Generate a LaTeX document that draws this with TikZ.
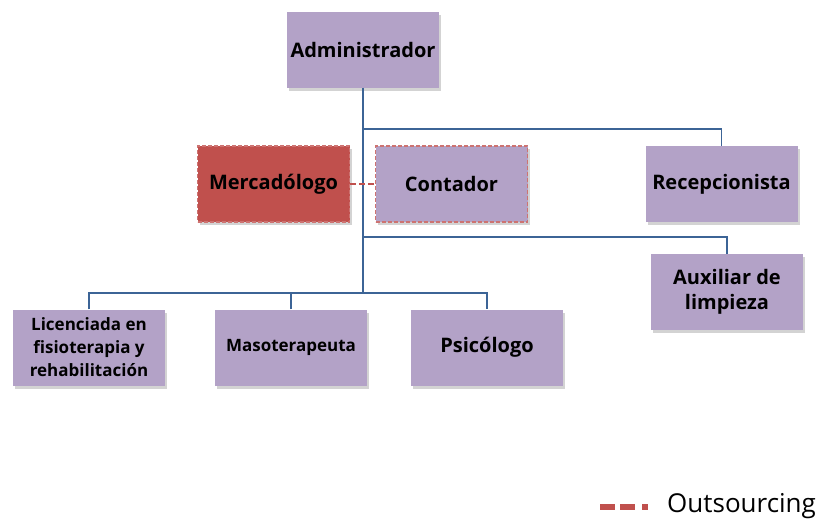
\documentclass[tikz,border=0pt]{standalone}
\usepackage{fontspec}
\setmainfont{Open Sans}
\usetikzlibrary{shadows}
\definecolor{boxpurple}{HTML}{B3A2C7}
\definecolor{boxred}{HTML}{C0504D}
\definecolor{linkblue}{HTML}{3C6496}
\definecolor{dashred}{HTML}{C0504D}
\tikzset{
  orgbox/.style={draw=none, fill=boxpurple, minimum width=152pt, minimum height=76pt, align=center, font=\bfseries\fontsize{20}{25}\selectfont, inner sep=2pt, drop shadow={shadow xshift=2pt, shadow yshift=-3pt, opacity=0.35}},
  smallbox/.style={orgbox, font=\bfseries\fontsize{17}{23}\selectfont},
  outbox/.style={draw=dashred!80!white, dash pattern=on 4pt off 2pt, line width=1.2pt},
  link/.style={draw=linkblue, line width=1.8pt},
  outlink/.style={draw=dashred, dash pattern=on 6pt off 3pt, line width=1.5pt}
}
\begin{document}
\begin{tikzpicture}[x=1pt,y=-1pt]
\useasboundingbox (0,0) rectangle (817,520);
\node[orgbox] (adm) at (363,49.5) {Administrador};
\node[orgbox, outbox, fill=boxred] (mer) at (273.5,184) {Mercadólogo};
\node[orgbox, outbox] (con) at (451.5,184) {Contador};
\node[orgbox] (rec) at (721.5,184) {Recepcionista};
\node[orgbox] (aux) at (727,292) {Auxiliar de\\limpieza};
\node[smallbox] (lic) at (89,347.5) {Licenciada en\\fisioterapia y\\rehabilitación};
\node[smallbox] (mas) at (291,347.5) {Masoterapeuta};
\node[orgbox] (psi) at (487,347.5) {Psicólogo};
\coordinate (j1) at (363,129);
\coordinate (j2) at (363,237);
\coordinate (j3) at (363,293);
\draw[link] (adm.south) -- (j3);
\draw[link] (j1) -| (rec.north);
\draw[link] (j2) -| (aux.north);
\draw[link] (lic.north) |- (j3) -| (psi.north);
\draw[link] (mas.north) -- (mas.north |- j3);
\draw[outlink] (mer.east) -- (con.west);
\coordinate (l1) at (600,507);
\coordinate (l2) at (648,507);
\draw[draw=dashred, line width=5.5pt, dash pattern=on 15pt off 5pt on 15pt off 7pt on 6pt off 20pt] (l1) -- (l2);
\node[anchor=west, font=\fontsize{26}{30}\selectfont, inner sep=0pt] (leg) at (667,506) {Outsourcing};
\end{tikzpicture}
\end{document}
